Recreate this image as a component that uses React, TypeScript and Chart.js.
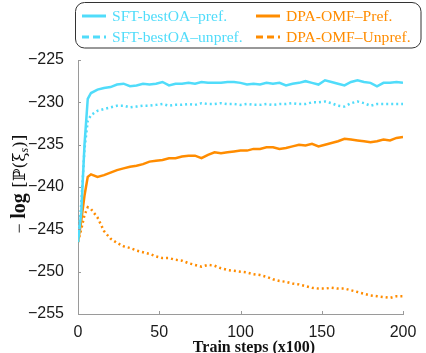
import React, { useEffect, useRef } from "react";
import { Chart, registerables } from "chart.js";

Chart.register(...registerables);

const steps = [0, 2, 4, 6, 8, 12, 16, 20, 24, 28, 32, 36, 40, 44, 48, 52, 56, 60, 64, 68, 72, 76, 80, 84, 88, 92, 96, 100, 104, 108, 112, 116, 120, 124, 128, 132, 136, 140, 144, 148, 152, 156, 160, 164, 168, 172, 176, 180, 184, 188, 192, 196, 200];

const sftPref = [-246.5, -243, -235, -229.6, -228.9, -228.5, -228.3, -228.2, -227.9, -227.8, -228.1, -228.0, -227.8, -227.9, -227.8, -227.6, -228.0, -227.8, -227.8, -227.7, -227.8, -227.6, -227.7, -227.7, -227.7, -227.6, -227.6, -227.7, -227.9, -227.8, -227.9, -227.7, -227.8, -227.7, -228.0, -227.8, -227.7, -227.5, -227.7, -227.9, -227.4, -227.6, -227.8, -228.0, -227.6, -227.4, -227.6, -227.7, -228.1, -227.7, -227.7, -227.6, -227.7];

const sftUnpref = [-246.5, -242, -235.5, -232.2, -231.5, -231.0, -230.8, -230.6, -230.4, -230.4, -230.6, -230.5, -230.4, -230.4, -230.3, -230.2, -230.4, -230.3, -230.3, -230.2, -230.3, -230.1, -230.2, -230.2, -230.1, -230.2, -230.2, -230.3, -230.2, -230.3, -230.3, -230.2, -230.3, -230.2, -230.2, -230.1, -230.2, -230.2, -230.0, -230.0, -229.9, -230.1, -230.4, -230.5, -230.1, -229.9, -230.1, -230.4, -230.2, -230.2, -230.2, -230.2, -230.2];

const dpaPref = [-246.5, -244, -241, -238.8, -238.5, -238.8, -238.6, -238.3, -238.0, -237.8, -237.6, -237.5, -237.3, -237.0, -236.9, -236.8, -236.6, -236.6, -236.4, -236.3, -236.3, -236.6, -236.2, -235.9, -236.0, -235.9, -235.8, -235.7, -235.7, -235.5, -235.5, -235.3, -235.3, -235.5, -235.4, -235.2, -235.0, -235.1, -234.9, -235.2, -235.0, -234.8, -234.6, -234.3, -234.4, -234.5, -234.6, -234.7, -234.6, -234.4, -234.5, -234.2, -234.1];

const dpaUnpref = [-246.5, -245, -243.3, -242.4, -242.6, -243.6, -245.2, -246.1, -246.6, -247.0, -247.2, -247.5, -247.7, -247.9, -248.2, -248.4, -248.4, -248.6, -248.7, -249.0, -249.2, -249.4, -249.2, -249.3, -249.6, -249.8, -249.9, -250.0, -250.1, -250.3, -250.4, -250.6, -250.9, -251.1, -251.2, -251.4, -251.5, -251.7, -251.9, -252.0, -252.0, -251.9, -252.0, -252.0, -252.2, -252.4, -252.6, -252.8, -252.9, -253.0, -253.1, -252.9, -252.9];

const seriesLabels = ["SFT-bestOA\u2013pref.", "SFT-bestOA\u2013unpref.", "DPA-OMF\u2013Pref.", "DPA-OMF\u2013Unpref."];
const xTitle = "Train steps (x100)";

const CYAN = "#50DCFA";
const ORANGE = "#FF8C00";

const toPts = (ys: number[]) => ys.map((y, i) => ({ x: steps[i], y }));

const decorPlugin = {
  id: "decor",
  afterDraw(chart: any) {
    const ctx = chart.ctx;
    const area = chart.chartArea;
    const xs = chart.scales.x;
    const ys = chart.scales.y;
    ctx.save();
    // inward ticks
    ctx.strokeStyle = "#9a9a9a";
    ctx.lineWidth = 1;
    ctx.beginPath();
    xs.ticks.forEach((t: any) => {
      const px = Math.round(xs.getPixelForValue(t.value)) + 0.5;
      ctx.moveTo(px, area.bottom);
      ctx.lineTo(px, area.bottom - 3);
    });
    ys.ticks.forEach((t: any) => {
      const py = Math.round(ys.getPixelForValue(t.value)) + 0.5;
      ctx.moveTo(area.left, py);
      ctx.lineTo(area.left + 3, py);
    });
    ctx.stroke();

    // x title
    ctx.fillStyle = "#111";
    ctx.font = "bold 16px 'Liberation Serif', serif";
    ctx.textAlign = "center";
    ctx.textBaseline = "alphabetic";
    ctx.fillText(xTitle, 254, 352);

    // y title (rotated, mixed fonts)
    ctx.save();
    ctx.translate(19, 184);
    ctx.rotate(-Math.PI / 2);
    const parts: [string, string, number][] = [
      ["\u2212 ", "18px 'Liberation Serif', serif", 0],
      ["log", "bold 20px 'Liberation Serif', serif", 0],
      [" [\u2119(\u03BE", "17px 'DejaVu Serif', serif", 0],
      ["s", "italic 12px 'Liberation Serif', serif", 3],
      [")]", "17px 'DejaVu Serif', serif", 0],
    ];
    let total = 0;
    parts.forEach(([s, f]) => {
      ctx.font = f;
      total += ctx.measureText(s).width;
    });
    let cx = -total / 2;
    ctx.textAlign = "left";
    ctx.textBaseline = "alphabetic";
    parts.forEach(([s, f, dy]) => {
      ctx.font = f;
      ctx.fillText(s, cx, 6 + dy);
      cx += ctx.measureText(s).width;
    });
    ctx.restore();

    // legend box
    const bx = 75.5, by = 2.5, bw = 345.5, bh = 45.5, r = 9;
    ctx.beginPath();
    ctx.moveTo(bx + r, by);
    ctx.lineTo(bx + bw - r, by);
    ctx.arcTo(bx + bw, by, bx + bw, by + r, r);
    ctx.lineTo(bx + bw, by + bh - r);
    ctx.arcTo(bx + bw, by + bh, bx + bw - r, by + bh, r);
    ctx.lineTo(bx + r, by + bh);
    ctx.arcTo(bx, by + bh, bx, by + bh - r, r);
    ctx.lineTo(bx, by + r);
    ctx.arcTo(bx, by, bx + r, by, r);
    ctx.closePath();
    ctx.fillStyle = "#fff";
    ctx.fill();
    ctx.strokeStyle = "#333";
    ctx.lineWidth = 1;
    ctx.stroke();

    const items = [
      { label: seriesLabels[0], color: CYAN, dash: [] as number[], x: 82, y: 16 },
      { label: seriesLabels[1], color: CYAN, dash: [7, 4], x: 82, y: 37 },
      { label: seriesLabels[2], color: ORANGE, dash: [] as number[], x: 256, y: 16 },
      { label: seriesLabels[3], color: ORANGE, dash: [7, 4], x: 256, y: 37 },
    ];
    items.forEach((it) => {
      ctx.beginPath();
      ctx.setLineDash(it.dash);
      ctx.strokeStyle = it.color;
      ctx.lineWidth = 3;
      ctx.moveTo(it.x, it.y);
      ctx.lineTo(it.x + 24, it.y);
      ctx.stroke();
      ctx.setLineDash([]);
      ctx.fillStyle = it.color;
      ctx.font = "15.6px 'Liberation Serif', serif";
      ctx.textAlign = "left";
      ctx.textBaseline = "middle";
      ctx.fillText(it.label, it.x + 30, it.y + 1);
    });
    ctx.restore();
  },
};

const tickFont = { family: "'Liberation Sans', sans-serif", size: 16 };
const fmt = (v: any) => String(v).replace("-", "\u2212");

export default function App() {
  const ref = useRef<HTMLCanvasElement | null>(null);
  useEffect(() => {
    document.body.style.margin = "0";
    const canvas = ref.current;
    if (!canvas) return;
    const chart = new Chart(canvas, {
      type: "line",
      data: {
        datasets: [
          { label: seriesLabels[0], data: toPts(sftPref), borderColor: CYAN, borderWidth: 2.5, pointRadius: 0, tension: 0 },
          { label: seriesLabels[1], data: toPts(sftUnpref), borderColor: CYAN, borderWidth: 2.5, borderDash: [2, 3], pointRadius: 0, tension: 0 },
          { label: seriesLabels[2], data: toPts(dpaPref), borderColor: ORANGE, borderWidth: 2.5, pointRadius: 0, tension: 0 },
          { label: seriesLabels[3], data: toPts(dpaUnpref), borderColor: ORANGE, borderWidth: 2.5, borderDash: [2, 3], pointRadius: 0, tension: 0 },
        ],
      },
      options: {
        animation: false,
        responsive: false,
        devicePixelRatio: 1,
        layout: { padding: { left: 0, right: 23, top: 60, bottom: 0 } },
        plugins: { legend: { display: false }, tooltip: { enabled: false } },
        scales: {
          x: {
            type: "linear",
            min: 0,
            max: 200,
            grid: { display: false },
            border: { display: true, color: "#9a9a9a", width: 1 },
            ticks: { stepSize: 50, padding: 1, color: "#1a1a1a", font: tickFont, callback: fmt },
            afterFit: (s: any) => { s.height = 39; },
          },
          y: {
            type: "linear",
            min: -255,
            max: -225,
            grid: { display: false },
            border: { display: true, color: "#9a9a9a", width: 1 },
            ticks: { stepSize: 5, padding: 6, color: "#1a1a1a", font: tickFont, callback: fmt },
            afterFit: (s: any) => { s.width = 78; },
          },
        },
      },
      plugins: [decorPlugin],
    } as any);
    return () => chart.destroy();
  }, []);
  return (
    <div style={{ width: 426, height: 353 }}>
      <canvas ref={ref} width={426} height={353} style={{ display: "block" }} />
    </div>
  );
}
